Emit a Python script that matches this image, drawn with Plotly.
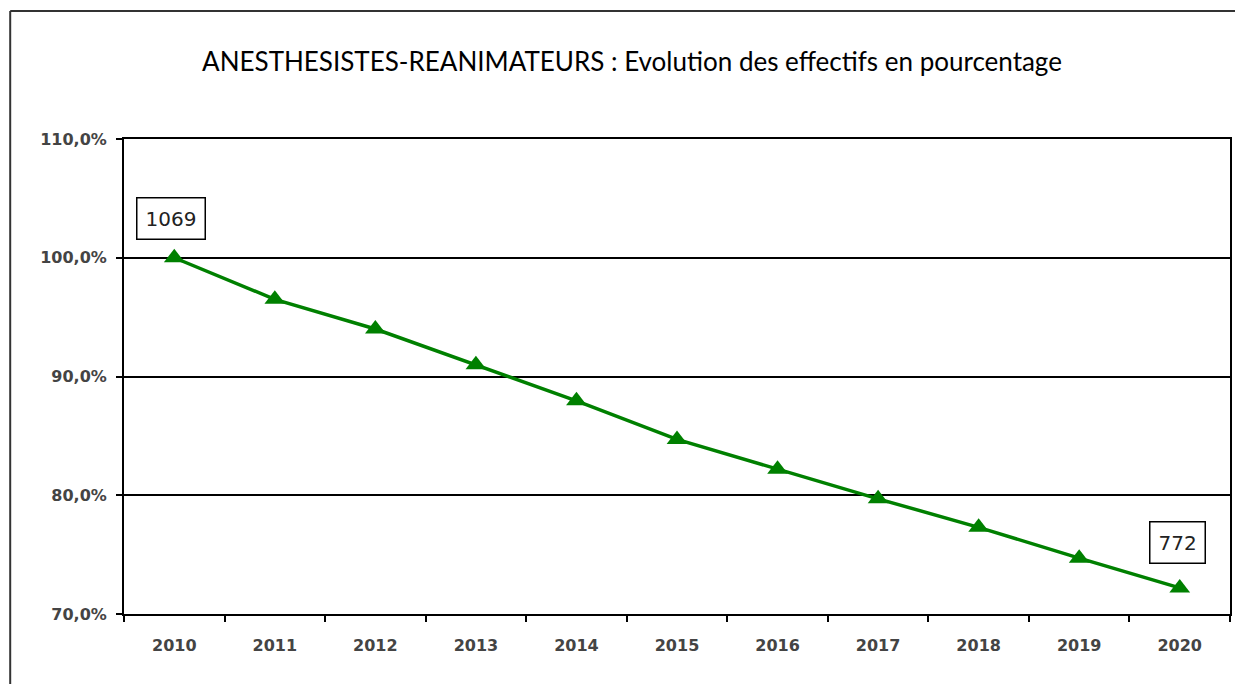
import plotly.graph_objects as go

years = ["2010", "2011", "2012", "2013", "2014", "2015", "2016", "2017", "2018", "2019", "2020"]
pct = [100.0, 96.5, 94.0, 91.0, 87.95, 84.7, 82.2, 79.7, 77.3, 74.7, 72.2]
first_label = "1069"
last_label = "772"
y_ticks = [70, 80, 90, 100, 110]
y_ticklabels = ["70,0%", "80,0%", "90,0%", "100,0%", "110,0%"]
title = "ANESTHESISTES-REANIMATEURS : Evolution des effectifs en pourcentage"

OFF = 8  # page body margin
W, H = 1243 - OFF, 684 - OFF
L, R, T, B = 124 - OFF, 1232 - OFF, 139 - OFF, 614 - OFF

def px(x):
    return (x - OFF - L) / (R - L)

def py(y):
    return (B - (y - OFF)) / (B - T)

fig = go.Figure()
fig.add_trace(go.Scatter(
    x=years, y=pct, mode="lines+markers",
    line=dict(color="#008000", width=3.5),
    marker=dict(symbol="triangle-up", size=18, color="#008000"),
    showlegend=False, hoverinfo="skip"))

tick_font = dict(family="DejaVu Sans", size=16, color="#444", weight="bold")

fig.update_layout(
    width=W, height=H,
    margin=dict(l=L, r=W - R, t=T, b=H - B),
    paper_bgcolor="white", plot_bgcolor="white",
    title=dict(text=title, x=(632 - OFF) / W, xanchor="center", y=1 - (62 - OFF) / H, yanchor="middle",
               font=dict(family="Lato", size=26, color="black")),
    xaxis=dict(type="category", tickson="boundaries", ticks="outside", ticklen=6,
               tickcolor="black", tickwidth=2, showgrid=False,
               showline=True, linecolor="black", linewidth=2, mirror=True,
               tickfont=tick_font, ticklabelstandoff=16,
               range=[-0.5, 10.5]),
    yaxis=dict(range=[70, 110], tickvals=y_ticks, ticktext=y_ticklabels,
               ticks="outside", ticklen=6, tickcolor="black", tickwidth=2,
               showgrid=True, gridcolor="black", gridwidth=1.5,
               showline=True, linecolor="black", linewidth=2, mirror=True,
               zeroline=False, ticklabelstandoff=6,
               tickfont=tick_font),
)

ann_font = dict(family="DejaVu Sans", size=20, color="#222")
fig.add_annotation(x=0, y=103.3, xref="x", yref="y", text=first_label, showarrow=False,
                   xshift=-3, font=ann_font,
                   bordercolor="black", borderwidth=1.5, borderpad=8, bgcolor="white")
fig.add_annotation(x=10, y=76.0, xref="x", yref="y", text=last_label, showarrow=False,
                   xshift=-2, font=ann_font,
                   bordercolor="black", borderwidth=1.5, borderpad=8, bgcolor="white")

# outer chart frame
fig.add_shape(type="line", xref="paper", yref="paper", x0=px(10), x1=px(1250), y0=py(11), y1=py(11),
              line=dict(color="#333", width=2))
fig.add_shape(type="line", xref="paper", yref="paper", x0=px(10), x1=px(10), y0=py(11), y1=py(690),
              line=dict(color="#333", width=2))

fig.write_html("out.html")
